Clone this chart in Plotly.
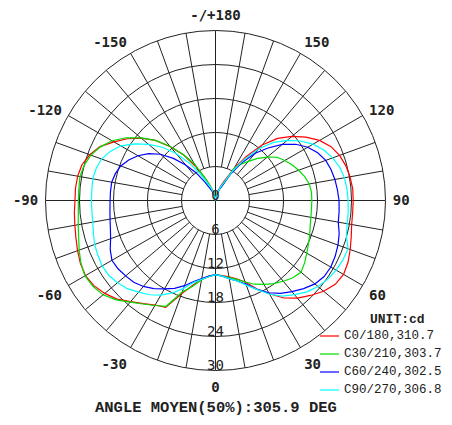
import plotly.graph_objects as go

# ---- data (gamma angle in degrees, intensity in radial-axis units) ----
theta_right = [180, 170, 160, 155, 150, 145, 140, 135, 130, 125, 120, 115, 110, 105, 100, 95, 90,
               85, 80, 75, 70, 65, 60, 55, 50, 45, 40, 35, 30, 25, 20, 15, 10, 5, 0]
theta_left = [-5, -10, -15, -20, -25, -30, -35, -40, -45, -50, -55, -60, -65, -70, -75, -80, -85,
              -90, -95, -100, -105, -110, -115, -120, -125, -130, -135, -140, -145, -150, -155,
              -160, -170, -180]

c0_right = [0, 1.2, 2.8, 4.0, 6.5, 9.5, 12.8, 15.5, 17.6, 19.5, 21.2, 22.5, 23.3, 23.8, 24.1, 24.3, 24.3,
            24.3, 24.4, 24.8, 25.3, 25.8, 26.1, 25.8, 24.9, 23.7, 22.5, 21.0, 19.0, 17.2, 15.3, 14.3, 13.7, 13.3, 13.1]
c0_left = [13.5, 14.1, 15.5, 17.5, 20.8, 21.3, 22.2, 23.3, 24.6, 25.5, 26.2, 26.5, 26.3, 25.9, 25.5, 25.2, 25.0,
           24.8, 24.8, 24.7, 24.4, 23.6, 22.5, 20.7, 19.0, 17.1, 15.0, 12.4, 9.8, 6.8, 4.3,
           2.8, 1.2, 0]

c30_right = [0, 1.0, 2.2, 3.2, 6.6, 7.8, 9.0, 10.5, 11.9, 13.3, 14.1, 14.9, 15.6, 16.3, 16.8, 17.0, 17.0,
             17.0, 17.1, 17.3, 17.7, 18.1, 18.6, 19.2, 19.7, 19.3, 18.6, 17.9, 17.1, 16.3, 15.3, 14.4, 13.8, 13.4, 13.1]
c30_left = [13.4, 14.2, 15.7, 17.2, 20.6, 21.4, 22.3, 23.4, 24.8, 25.9, 26.4, 26.6, 26.2, 25.6, 25.0, 24.6, 24.3,
            24.2, 24.2, 24.3, 24.0, 23.4, 22.4, 21.1, 19.3, 17.2, 15.0, 12.5, 9.9, 7.5, 4.5,
            2.8, 1.2, 0]

c60_right = [0, 1.0, 2.2, 3.0, 5.5, 8.2, 10.9, 13.1, 15.4, 17.3, 18.8, 19.9, 20.7, 21.1, 21.4, 21.6, 21.8,
             21.9, 22.0, 22.6, 23.0, 23.3, 23.5, 23.4, 22.9, 22.0, 21.0, 20.0, 18.8, 17.3, 15.7, 14.7, 14.0, 13.4, 13.1]
c60_left = [13.4, 14.0, 14.8, 16.0, 17.1, 18.0, 19.0, 19.8, 20.4, 20.7, 21.0, 21.1, 20.5, 19.7, 19.2, 18.9, 18.7,
            18.6, 18.6, 18.6, 18.3, 17.8, 16.9, 15.8, 14.4, 12.7, 10.5, 8.2, 6.0, 3.8, 2.4,
            1.7, 0.8, 0]

c90_right = [0, 1.1, 2.5, 3.5, 6.0, 8.8, 12.0, 14.5, 16.5, 18.3, 19.9, 21.1, 22.0, 22.7, 23.1, 23.3, 23.4,
             23.5, 23.6, 23.9, 24.9, 24.8, 24.6, 24.2, 23.6, 22.8, 21.7, 20.6, 19.1, 17.3, 15.9, 14.7, 14.0, 13.4, 13.1]
c90_left = [13.5, 14.1, 15.0, 16.5, 18.0, 19.3, 20.3, 21.1, 22.0, 22.6, 23.0, 23.1, 22.9, 22.7, 22.3, 22.0, 21.9,
            21.9, 21.9, 22.0, 21.8, 21.4, 20.5, 19.3, 17.4, 15.4, 13.3, 10.9, 8.1, 5.5, 3.5,
            2.5, 1.1, 0]

series_names = ["C0/180,310.7", "C30/210,303.7", "C60/240,302.5", "C90/270,306.8"]
series_colors = ["#ff0000", "#00dd00", "#0000ff", "#00ffff"]
series_values = [c0_right + c0_left, c30_right + c30_left, c60_right + c60_left, c90_right + c90_left]
theta_all = theta_right + theta_left

ring_vals = [0, 6, 12, 18, 24, 30]
ring_labels = ["0", "6", "12", "18", "24", "30"]
angle_tickvals = [0, 30, 60, 90, 120, 150, 180, 210, 240, 270, 300, 330]
angle_ticktext = ["0", "30", "60", "90", "120", "150", "-/+180", "-150", "-120", "-90", "-60", "-30"]
unit_text = "UNIT:cd"
footer_text = "ANGLE MOYEN(50%):305.9 DEG"

OFF = 8  # page body margin (both sides)
W, H = 452 - 2 * OFF, 425 - 2 * OFF
TXT = "#222222"


def px(x):
    return (x - OFF) / W


def py(y):
    return 1 - (y - OFF) / H


fig = go.Figure()

# spokes (every 10 deg, from inner ring outward; main axes through center)
sp_r, sp_t = [], []
for a in range(0, 360, 10):
    r0 = ring_vals[0] if a % 90 == 0 else ring_vals[1]
    sp_r += [r0, ring_vals[-1], None]
    sp_t += [a, a, None]
fig.add_trace(go.Scatterpolar(r=sp_r, theta=sp_t, mode="lines",
                              line=dict(color="#222222", width=1), hoverinfo="skip", showlegend=False))

for name, col, vals in zip(series_names, series_colors, series_values):
    fig.add_trace(go.Scatterpolar(r=vals, theta=theta_all, mode="lines", name=name,
                                  line=dict(color=col, width=1.2), showlegend=False))

# radial labels along the 0 direction, sitting just above each ring
lab_shift = 0.75
lab_r = [abs(v - lab_shift) for v in ring_vals]
lab_t = [180 if v < lab_shift else 0 for v in ring_vals]
fig.add_trace(go.Scatterpolar(r=lab_r, theta=lab_t, mode="text", text=ring_labels,
                              textposition="middle center",
                              textfont=dict(family="DejaVu Sans Mono", size=14, color=TXT),
                              hoverinfo="skip", showlegend=False))

fig.update_layout(
    width=W, height=H, margin=dict(l=0, r=0, t=0, b=0),
    paper_bgcolor="white", plot_bgcolor="white", showlegend=False,
    polar=dict(
        domain=dict(x=[px(45.5), px(385.5)], y=[py(370.5), py(30.5)]),
        bgcolor="white",
        angularaxis=dict(rotation=270, direction="counterclockwise", tickmode="array",
                         tickvals=angle_tickvals, ticktext=angle_ticktext, showgrid=False,
                         showline=True, linecolor="#222222", linewidth=1,
                         ticks="outside", ticklen=4, tickcolor="rgba(0,0,0,0)",
                         tickfont=dict(family="DejaVu Sans Mono", size=14, color=TXT, weight="bold")),
        radialaxis=dict(range=[0, 30], tickvals=ring_vals[1:-1], showticklabels=False, ticks="",
                        showline=False, showgrid=True, gridcolor="#222222", gridwidth=1),
    ),
)

# legend drawn beside the plot
leg_y0 = 336
for i, (name, col) in enumerate(zip(series_names, series_colors)):
    y = py(leg_y0 + 18 * i)
    fig.add_shape(type="line", xref="paper", yref="paper", x0=px(320), x1=px(339), y0=y, y1=y,
                  line=dict(color=col, width=1.2))
    fig.add_annotation(xref="paper", yref="paper", x=px(342), y=y, xanchor="left", yanchor="middle",
                       text=name, showarrow=False,
                       font=dict(family="Liberation Mono", size=12.5, color=TXT))
fig.add_annotation(xref="paper", yref="paper", x=px(397), y=py(319), xanchor="center", yanchor="middle",
                   text="<b>" + unit_text + "</b>", showarrow=False,
                   font=dict(family="Liberation Mono", size=13, color=TXT))
fig.add_annotation(xref="paper", yref="paper", x=px(215.5), y=py(408), xanchor="center", yanchor="middle",
                   text="<b>" + footer_text + "</b>", showarrow=False,
                   font=dict(family="Liberation Mono", size=15.5, color=TXT))

fig.write_html("out.html")
